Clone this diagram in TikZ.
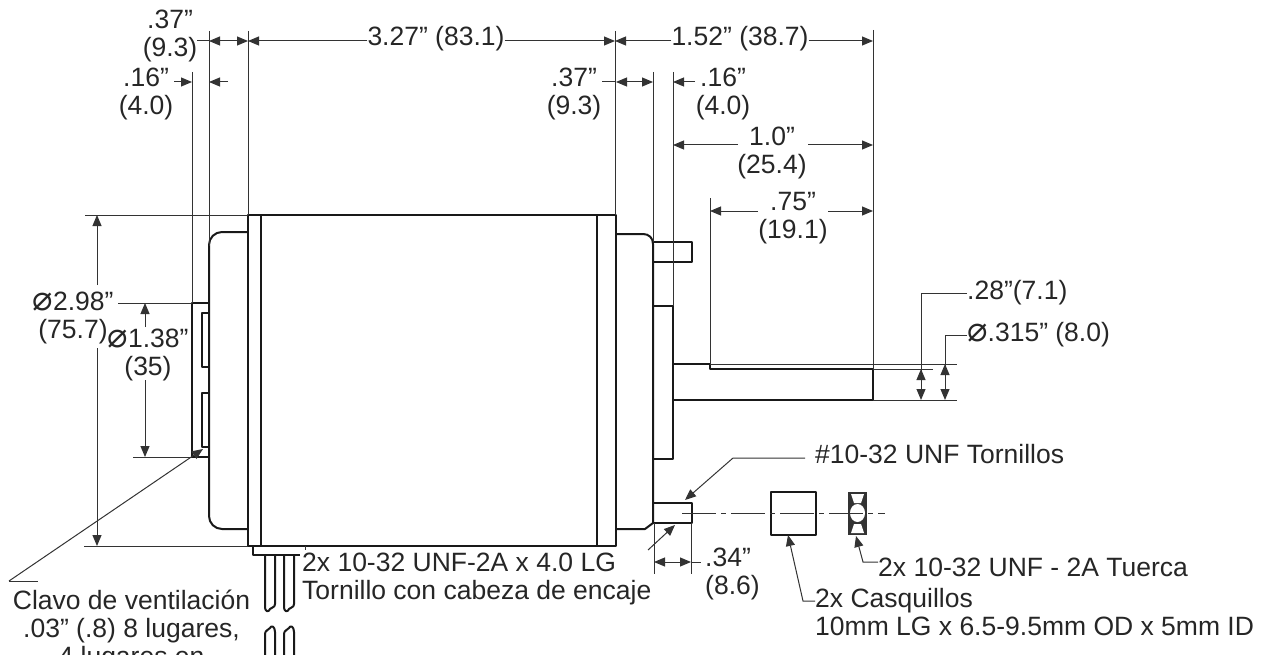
\documentclass[tikz,border=0pt]{standalone}
\usepackage{fontspec}
\setmainfont{Liberation Sans}
\newfontfamily\symfont{DejaVu Sans}
\usetikzlibrary{arrows.meta}
\tikzset{
  outline/.style={line width=2pt, color=black!90, line join=round},
  thinline/.style={line width=1pt, color=black!80},
  dimline/.style={thinline, {Triangle[length=11pt,width=9pt]}-{Triangle[length=11pt,width=9pt]}},
  endarrow/.style={thinline, -{Triangle[length=11pt,width=9pt]}},
  dimtext/.style={font=\fontsize{26.5}{28}\selectfont, text=black!85, inner sep=0pt, align=center},
  lefttext/.style={dimtext, anchor=west, align=left},
}
\newcommand{\diam}{{\symfont\fontsize{34}{28}\selectfont ⌀}}
\begin{document}
\begin{tikzpicture}[x=1pt,y=-1pt]

\useasboundingbox (0,0) rectangle (1265,655);
\clip (0,0) rectangle (1265,655);

\coordinate (left-37-label) at (170,36);
\coordinate (left-16-label) at (146,94);
\coordinate (top-327-label) at (436,39);
\coordinate (top-152-label) at (740,39);
\coordinate (right-37-label) at (574,94);
\coordinate (right-16-label) at (723,94);
\coordinate (top-10-label) at (772,153);
\coordinate (top-75-label) at (793,218);
\coordinate (dia-298-label) at (73,318);
\coordinate (dia-138-label) at (148,355);
\coordinate (shaft-28-label) at (967,293);
\coordinate (shaft-315-label) at (967,335);
\coordinate (vent-label) at (131.5,630);
\coordinate (screw-label) at (302,579);
\coordinate (stud-34-label) at (705,574);
\coordinate (thread-label) at (815,454);
\coordinate (nut-label) at (878,567);
\coordinate (bush-label) at (815,612);
\coordinate (thread-leader) at (805,458);

\node (left-37) [dimtext] at (left-37-label) {.37”\\(9.3)};
\node (left-16) [dimtext] at (left-16-label) {.16”\\(4.0)};
\node (top-327) [dimtext] at (top-327-label) {3.27” (83.1)};
\node (top-152) [dimtext] at (top-152-label) {1.52” (38.7)};
\node (right-37) [dimtext] at (right-37-label) {.37”\\(9.3)};
\node (right-16) [dimtext] at (right-16-label) {.16”\\(4.0)};
\node (top-10) [dimtext] at (top-10-label) {1.0”\\(25.4)};
\node (top-75) [dimtext] at (top-75-label) {.75”\\(19.1)};
\node (dia-298) [dimtext] at (dia-298-label) {\diam2.98”\\(75.7)};
\node (dia-138) [dimtext] at (dia-138-label) {\diam1.38”\\(35)};
\node (shaft-28) [lefttext] at (shaft-28-label) {.28”(7.1)};
\node (shaft-315) [lefttext] at (shaft-315-label) {\diam.315” (8.0)};
\node (vent) [dimtext] at (vent-label) {Clavo de ventilación\\.03” (.8) 8 lugares,\\4 lugares en};
\node (screw) [lefttext] at (screw-label) {2x 10-32 UNF-2A x 4.0 LG\\Tornillo con cabeza de encaje};
\node (stud-34) [lefttext] at (stud-34-label) {.34”\\(8.6)};
\node (thread) [lefttext] at (thread-label) {\#10-32 UNF Tornillos};
\node (nut) [lefttext] at (nut-label) {2x 10-32 UNF - 2A Tuerca};
\node (bush) [lefttext] at (bush-label) {2x Casquillos\\10mm LG x 6.5-9.5mm OD x 5mm ID};

\draw [outline] (248,546) -- (248,215) -- (616,215) -- (616,546) -- cycle;
\draw [outline] (261,215) -- (261,546);
\draw [outline] (597,215) -- (597,546);
\draw [outline, rounded corners=13pt] (248,232) -- (209,232) -- (209,529) -- (248,529);
\draw [outline] (209,303) -- (192,303) -- (192,457) -- (209,457);
\draw [outline] (209,313) -- (202,313) -- (202,367) -- (209,367);
\draw [outline] (209,393) -- (202,393) -- (202,447) -- (209,447);
\draw [outline] (616,234) -- (643,234) .. controls (649,234) and (653,238) .. (653,244) -- (653,523) -- (645,529) -- (616,529);
\draw [outline] (653,242) -- (692,242) -- (692,262) -- (653,262);
\draw [outline] (653,306) -- (673,306) -- (673,459) -- (653,459);
\draw [outline] (673,364) -- (710,364) -- (710,369) -- (873,369) -- (873,400) -- (673,400);
\draw [outline] (673,306) -- (673,400);
\draw [outline] (653,503) -- (692,503) -- (692,523) -- (653,523);
\draw [outline] (771,492) rectangle (816,535);
\fill [black!80] (848,492) rectangle (867,535);
\fill [white] (851,494) -- (864,494) -- (861,503) -- (854,503) -- cycle;
\fill [white] (857.5,513) ellipse [x radius=7.5, y radius=9];
\fill [white] (851,533) -- (864,533) -- (861,524) -- (854,524) -- cycle;
\draw [outline] (253,546) -- (253,555) -- (300,555);
\draw [thinline] (305,546) -- (305,550);
\draw [outline] (265,555) -- (265,606) .. controls (265,613) and (269,612) .. (270,609) .. controls (271,607) and (275,608) .. (275,604) -- (275,555);
\draw [outline] (284,555) -- (284,606) .. controls (284,613) and (288,612) .. (289,609) .. controls (290,607) and (294,608) .. (294,604) -- (294,555);
\draw [outline] (265,655) -- (265,634) .. controls (265,630) and (269,630) .. (270,628) .. controls (271,625) and (275,626) .. (275,632) -- (275,655);
\draw [outline] (284,655) -- (284,634) .. controls (284,630) and (288,630) .. (289,628) .. controls (290,625) and (294,626) .. (294,632) -- (294,655);
\draw [thinline, dash pattern=on 34pt off 5pt on 5pt off 5pt] (682,513) -- (885,513);

\draw [thinline] (192,72) -- (192,303);
\draw [thinline] (209,31) -- (209,246);
\draw [thinline] (248,31) -- (248,215);
\draw [thinline] (615,31) -- (615,215);
\draw [thinline] (653,72) -- (653,242);
\draw [thinline] (673,72) -- (673,306);
\draw [thinline] (710,198) -- (710,364);
\draw [thinline] (873,30) -- (873,369);
\draw [thinline] (85,215) -- (248,215);
\draw [thinline] (84,546) -- (248,546);
\draw [thinline] (710,364) -- (957,364);
\draw [thinline] (873,369) -- (933,369);
\draw [thinline] (873,400) -- (957,400);
\draw [thinline] (654,523) -- (654,574);
\draw [thinline] (691,523) -- (691,574);

\draw [thinline] (197,41) -- (209,41);
\draw [dimline] (209,41) -- (248,41);
\draw [endarrow] (top-327.west |- 0,41) -- (248,41);
\draw [endarrow] (top-327.east |- 0,41) -- (615,41);
\draw [endarrow] (top-152.west |- 0,41) -- (615,41);
\draw [endarrow] (top-152.east |- 0,41) -- (873,41);
\draw [endarrow] (174,82) -- (192,82);
\draw [endarrow] (228,82) -- (209,82);
\draw [thinline] (602,82) -- (616,82);
\draw [dimline] (616,82) -- (653,82);
\draw [endarrow] (695,82) -- (673,82);
\draw [endarrow] (738,145) -- (673,145);
\draw [endarrow] (808,145) -- (873,145);
\draw [endarrow] (758,211) -- (710,211);
\draw [endarrow] (828,211) -- (873,211);
\draw [endarrow] (97,285) -- (97,215);
\draw [endarrow] (97,348) -- (97,546);
\draw [thinline] (118,303) -- (192,303);
\draw [thinline] (133,457) -- (192,457);
\draw [endarrow] (145,327) -- (145,303);
\draw [endarrow] (145,380) -- (145,457);
\draw [thinline] (shaft-28.west) -| (921,380);
\draw [thinline] (shaft-315.west) -| (945,380);
\draw [dimline] (921,369) -- (921,400);
\draw [dimline] (945,364) -- (945,400);
\draw [thinline] (9,581) -- (38,581);
\draw [endarrow] (9,581) -- (203,449);
\draw [endarrow] (648,550) -- (675,525);
\draw [dimline] (654,562) -- (691,562);
\draw [thinline] (691,562) -- (701,562);
\draw [endarrow] (thread-leader) -- (733,458) -- (685,500);
\draw [endarrow] (bush.west |- 0,601) -- (803,601) -- (788,535);
\draw [endarrow] (nut.west |- 0,562) -- (863,562) -- (856,536);

\end{tikzpicture}
\end{document}
